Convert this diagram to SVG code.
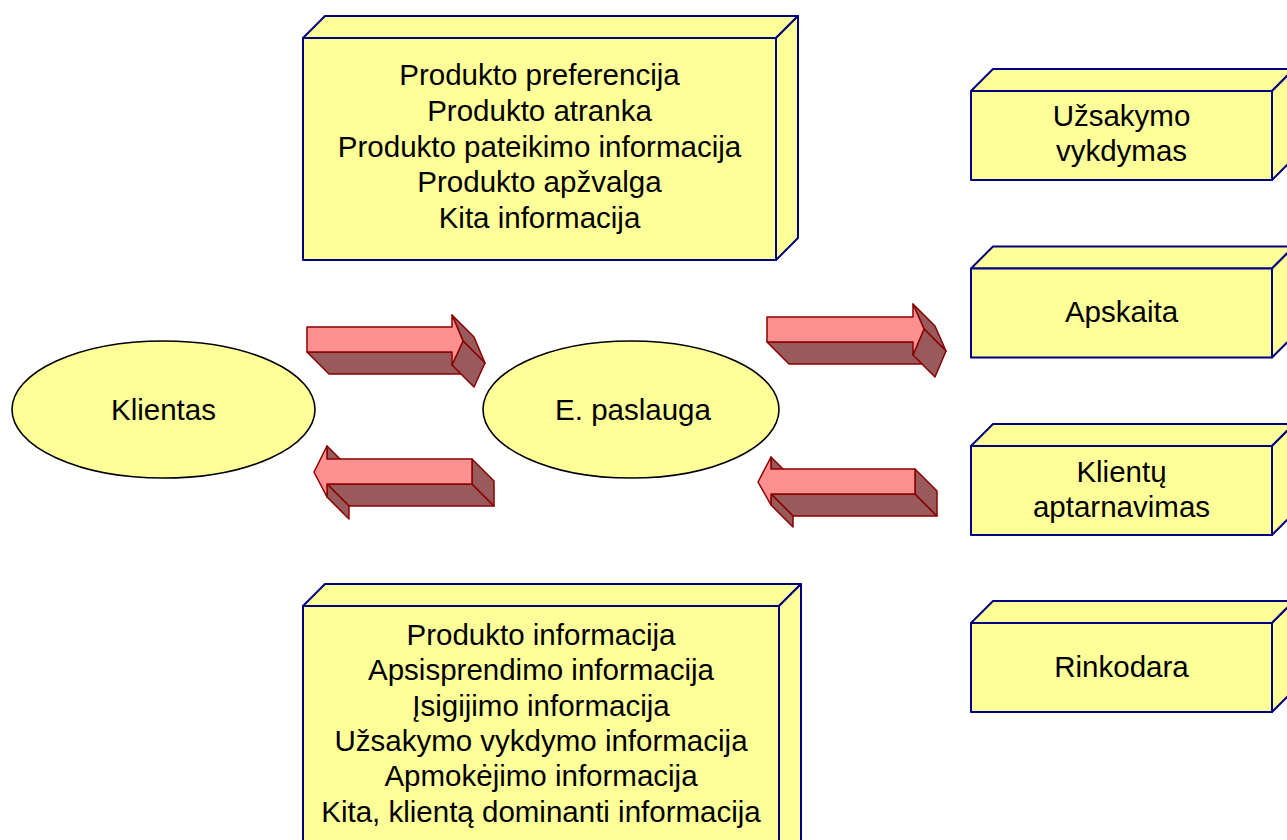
<svg xmlns="http://www.w3.org/2000/svg" width="1287" height="840" viewBox="0 0 1287 840">
<style>
.box{fill:#FFFF99;stroke:#000080;stroke-width:2;stroke-linejoin:round}
.ell{fill:#FFFF99;stroke:#000000;stroke-width:1.6}
.t{font-family:"Liberation Sans",Arial,sans-serif;font-size:29.5px;fill:#000;text-anchor:middle}
.af{fill:#FF9090;stroke:#8B0000;stroke-width:1.5;stroke-linejoin:round}
.as{fill:#985A5A;stroke:#8B0000;stroke-width:1.5;stroke-linejoin:round}
</style>
<rect width="1287" height="840" fill="#FFFFFF"/>

<g id="box-top">
<polygon class="box" points="303,38 325,16 798,16 776,38"/>
<polygon class="box" points="776,38 798,16 798,238 776,260"/>
<rect class="box" x="303" y="38" width="473" height="222"/>
<text class="t" x="539.5" y="85">Produkto preferencija</text>
<text class="t" x="539.5" y="120.7">Produkto atranka</text>
<text class="t" x="539.5" y="156.5">Produkto pateikimo informacija</text>
<text class="t" x="539.5" y="192.2">Produkto apžvalga</text>
<text class="t" x="539.5" y="228">Kita informacija</text>
</g>

<g id="box-bottom">
<polygon class="box" points="303,606 325,584 801,584 779,606"/>
<polygon class="box" points="779,606 801,584 801,860 779,882"/>
<rect class="box" x="303" y="606" width="476" height="270"/>
<text class="t" x="541" y="645">Produkto informacija</text>
<text class="t" x="541" y="680.3">Apsisprendimo informacija</text>
<text class="t" x="541" y="715.6">Įsigijimo informacija</text>
<text class="t" x="541" y="751">Užsakymo vykdymo informacija</text>
<text class="t" x="541" y="786.3">Apmokėjimo informacija</text>
<text class="t" x="541" y="821.7">Kita, klientą dominanti informacija</text>
</g>

<g id="box-uzsakymo">
<polygon class="box" points="971,91 993,69 1294,69 1272,91"/>
<polygon class="box" points="1272,91 1294,69 1294,158 1272,180"/>
<rect class="box" x="971" y="91" width="301" height="89"/>
<text class="t" x="1121.5" y="126">Užsakymo</text>
<text class="t" x="1121.5" y="161">vykdymas</text>
</g>

<g id="box-apskaita">
<polygon class="box" points="971,268.5 993,246.5 1294,246.5 1272,268.5"/>
<polygon class="box" points="1272,268.5 1294,246.5 1294,335.5 1272,357.5"/>
<rect class="box" x="971" y="268.5" width="301" height="89"/>
<text class="t" x="1121.5" y="321.5">Apskaita</text>
</g>

<g id="box-klientu">
<polygon class="box" points="971,446 993,424 1294,424 1272,446"/>
<polygon class="box" points="1272,446 1294,424 1294,513 1272,535"/>
<rect class="box" x="971" y="446" width="301" height="89"/>
<text class="t" x="1121.5" y="481.5">Klientų</text>
<text class="t" x="1121.5" y="516.5">aptarnavimas</text>
</g>

<g id="box-rinkodara">
<polygon class="box" points="971,623 993,601 1294,601 1272,623"/>
<polygon class="box" points="1272,623 1294,601 1294,690 1272,712"/>
<rect class="box" x="971" y="623" width="301" height="89"/>
<text class="t" x="1121.5" y="677">Rinkodara</text>
</g>

<g id="node-klientas">
<ellipse class="ell" cx="163.5" cy="409.5" rx="151.5" ry="68.5"/>
<text class="t" x="163.5" y="420">Klientas</text>
</g>

<g id="node-epaslauga">
<ellipse class="ell" cx="631" cy="409.5" rx="148" ry="68.5"/>
<text class="t" x="633" y="420">E. paslauga</text>
</g>

<g id="connectors">
<g id="arrow-klientas-to-epaslauga">
<polygon class="as" points="307,352 452,352 474,374 329,374"/>
<polygon class="as" points="452,315 463,341 485,363 474,337"/>
<polygon class="as" points="463,341 452,365 474,387 485,363"/>
<polygon class="af" points="307,327 452,327 452,315 463,341 452,365 452,352 307,352"/>
</g>
<g id="arrow-epaslauga-to-klientas">
<polygon class="as" points="327,446 327,459 349,481 349,468"/>
<polygon class="as" points="472,484 327,484 349,506 494,506"/>
<polygon class="as" points="472,459 472,484 494,506 494,481"/>
<polygon class="as" points="327,484 327,497 349,519 349,506"/>
<polygon class="af" points="314,472 327,446 327,459 472,459 472,484 327,484 327,497"/>
</g>
<g id="arrow-epaslauga-to-right">
<polygon class="as" points="767,342 913,342 935,364 789,364"/>
<polygon class="as" points="913,304 924,329 946,351 935,326"/>
<polygon class="as" points="924,329 913,355 935,377 946,351"/>
<polygon class="af" points="767,317 913,317 913,304 924,329 913,355 913,342 767,342"/>
</g>
<g id="arrow-right-to-epaslauga">
<polygon class="as" points="771,457 771,469 793,491 793,479"/>
<polygon class="as" points="915,494 771,494 793,516 937,516"/>
<polygon class="as" points="915,469 915,494 937,516 937,491"/>
<polygon class="as" points="771,494 771,505 793,527 793,516"/>
<polygon class="af" points="758,482 771,457 771,469 915,469 915,494 771,494 771,505"/>
</g>
</g>
</svg>
